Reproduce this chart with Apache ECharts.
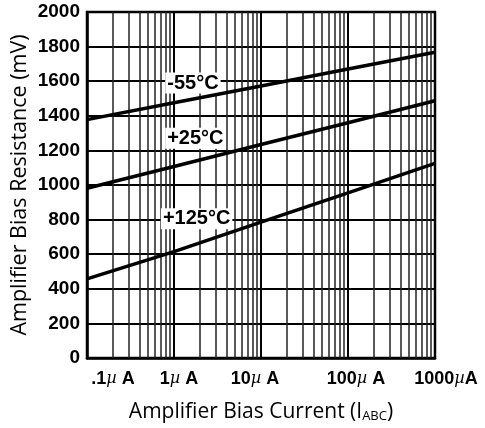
<!DOCTYPE html>
<html>
<head>
<meta charset="utf-8">
<script src="https://cdn.jsdelivr.net/npm/echarts@6/dist/echarts.min.js"></script>
<style>
html,body{margin:0;padding:0;background:#fff;}
#c{width:485px;height:428px;}
</style>
</head>
<body>
<div id="c"></div>
<script>
// Data
const currents = [0.1, 1, 10, 100, 1000];            // µA
const m55 = [1378, 1475, 1572, 1670, 1767];          // -55°C
const p25 = [981, 1107, 1234, 1360, 1487];           // +25°C
const p125 = [457, 615, 785, 955, 1125];             // +125°C
const seriesNames = ['-55°C', '+25°C', '+125°C'];
const labelAt = [[1.65, 1589], [1.76, 1270], [1.82, 805]];
const xTickText = ['.1', '1', '10', '100', '1000'];
const xTickShift = [52, 10, -12, 16, 22];
const minorMultipliers = [2, 3, 4, 5, 6, 7, 8, 9];
const decades = [0.1, 1, 10, 100];

const minorLines = [];
decades.forEach(d => minorMultipliers.forEach(m => minorLines.push({xAxis: +(d * m).toPrecision(3)})));

function pairs(ys){ return currents.map((x,i)=>[x, ys[i]]); }

const lblFont = 'Liberation Sans';
const allSeries = [m55, p25, p125].map((ys, i) => ({
  type: 'line',
  name: seriesNames[i],
  data: pairs(ys),
  showSymbol: false,
  symbol: 'none',
  lineStyle: {color: '#000', width: 3.5},
  silent: true,
  z: 5,
  markPoint: {
    symbol: 'rect', symbolSize: 0, silent: true,
    data: [{coord: labelAt[i], value: seriesNames[i]}],
    label: {
      show: true, position: 'inside', formatter: seriesNames[i],
      color: '#000', fontFamily: lblFont, fontWeight: 'bold', fontSize: 20,
      backgroundColor: '#fff', padding: [1, 2, 0, 2]
    }
  },
  markLine: i === 0 ? {
    silent: true, symbol: 'none', animation: false,
    label: {show: false},
    lineStyle: {color: '#222', width: 1.5, type: 'solid'},
    data: minorLines, z: 1
  } : undefined
}));

const chart = echarts.init(document.getElementById('c'), null, {renderer: 'canvas'});
const rich = {};
xTickShift.forEach((s, i) => {
  rich['n' + i] = {fontFamily: lblFont, fontWeight: 'bold', fontSize: 18, color: '#000',
    padding: s >= 0 ? [0, 0, 0, s] : [0, 0, 0, 0]};
  rich['m' + i] = {fontFamily: 'DejaVu Serif', fontStyle: 'italic', fontSize: 16, color: '#000'};
  rich['a' + i] = {fontFamily: lblFont, fontWeight: 'bold', fontSize: 18, color: '#000',
    padding: s >= 0 ? [0, 0, 0, 0] : [0, -s, 0, 0]};
});

chart.setOption({
  animation: false,
  backgroundColor: '#fff',
  grid: {left: 87, right: 50, top: 12, bottom: 70, show: true, borderColor: '#000', borderWidth: 2.5,
    containLabel: false, outerBoundsMode: 'none'},
  xAxis: {
    type: 'log', logBase: 10, min: 0.1, max: 1000,
    name: 'Amplifier Bias Current (I{s|ABC})',
    nameLocation: 'middle', nameGap: 44, nameMoveOverlap: false,
    nameTextStyle: {fontFamily: 'Open Sans', fontSize: 21, color: '#000',
      rich: {s: {fontFamily: 'Open Sans', fontSize: 13, color: '#000', verticalAlign: 'bottom', padding: [7, 0, 0, 0]}}},
    axisLine: {show: true, lineStyle: {color: '#000', width: 2.5}},
    axisTick: {show: false},
    splitLine: {show: true, lineStyle: {color: '#000', width: 2}},
    axisLabel: {
      margin: 12,
      formatter: function (v) {
        const i = Math.round(Math.log10(v)) + 1;
        if (i < 0 || i > 4) return '';
        const sep = i === 4 ? '' : ' ';
        return '{n' + i + '|' + xTickText[i] + '}{m' + i + '|µ}{a' + i + '|' + sep + 'A}';
      },
      rich: rich
    }
  },
  yAxis: {
    type: 'value', min: 0, max: 2000, interval: 200,
    name: 'Amplifier Bias Resistance (mV)',
    nameLocation: 'middle', nameGap: 56, nameMoveOverlap: false,
    nameTextStyle: {fontFamily: 'Open Sans', fontSize: 21.5, color: '#000'},
    axisLine: {show: true, lineStyle: {color: '#000', width: 2.5}},
    axisTick: {show: false},
    splitLine: {show: true, lineStyle: {color: '#000', width: 1.8}},
    axisLabel: {margin: 7, fontFamily: lblFont, fontWeight: 'bold', fontSize: 19, color: '#000',
      formatter: function (v) { return String(v); }}
  },
  series: allSeries
});
</script>
</body>
</html>
